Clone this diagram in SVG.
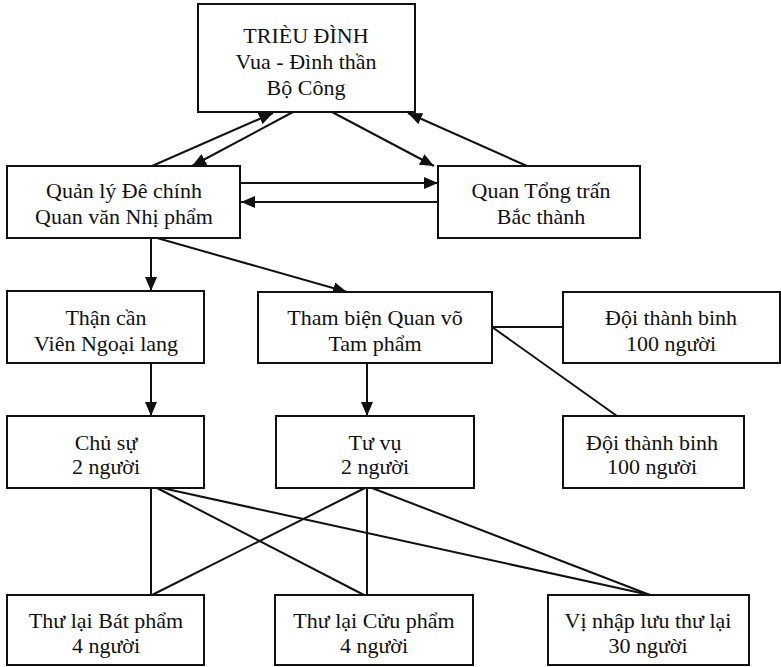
<svg xmlns="http://www.w3.org/2000/svg" width="781" height="667" viewBox="0 0 781 667">
<style>
.box{fill:#fff;stroke:#111;stroke-width:2}
.t{font-family:"Liberation Serif","Times New Roman",serif;font-size:22px;fill:#111;text-anchor:middle}
.c{stroke:#111;stroke-width:2;fill:none}
.a{marker-end:url(#ah)}
</style>
<defs>
<marker id="ah" markerUnits="userSpaceOnUse" markerWidth="14" markerHeight="12" refX="14" refY="6" orient="auto">
<path d="M0,0 L14,6 L0,12 Z" fill="#111"/>
</marker>
</defs>
<rect width="781" height="667" fill="#fff"/>
<g id="connectors">
<line class="c a" x1="152" y1="166" x2="273" y2="113"/>
<line class="c a" x1="293" y1="112" x2="192" y2="166"/>
<line class="c a" x1="332" y1="112" x2="434" y2="166"/>
<line class="c a" x1="527" y1="166" x2="408" y2="113"/>
<line class="c a" x1="241" y1="183" x2="438" y2="183"/>
<line class="c a" x1="438" y1="202" x2="241" y2="202"/>
<line class="c a" x1="151" y1="238" x2="151" y2="291"/>
<line class="c a" x1="157" y1="238" x2="347" y2="292"/>
<line class="c" x1="492" y1="327" x2="563" y2="327"/>
<line class="c" x1="492" y1="327" x2="617" y2="416"/>
<line class="c a" x1="151" y1="363" x2="151" y2="416"/>
<line class="c a" x1="367" y1="363" x2="367" y2="416"/>
<line class="c" x1="151" y1="488" x2="151" y2="595"/>
<line class="c" x1="157" y1="488" x2="364" y2="595"/>
<line class="c" x1="162" y1="488" x2="650" y2="595"/>
<line class="c" x1="365" y1="488" x2="152" y2="595"/>
<line class="c" x1="367" y1="488" x2="367" y2="595"/>
<line class="c" x1="372" y1="488" x2="650" y2="595"/>
</g>
<g id="trieu-dinh">
<rect class="box" x="198" y="4" width="217" height="108"/>
<text class="t" x="306" y="43">TRIÈU ĐÌNH</text>
<text class="t" x="306" y="69">Vua - Đình thần</text>
<text class="t" x="306" y="95">Bộ Công</text>
</g>
<g id="quan-ly">
<rect class="box" x="7" y="166" width="233" height="72"/>
<text class="t" x="124" y="198">Quản lý Đê chính</text>
<text class="t" x="124" y="224">Quan văn Nhị phẩm</text>
</g>
<g id="tong-tran">
<rect class="box" x="438" y="166" width="202" height="72"/>
<text class="t" x="541" y="198">Quan Tổng trấn</text>
<text class="t" x="541" y="224">Bắc thành</text>
</g>
<g id="than-can">
<rect class="box" x="7" y="291" width="197" height="72"/>
<text class="t" x="106" y="325">Thận cần</text>
<text class="t" x="106" y="351">Viên Ngoại lang</text>
</g>
<g id="tham-bien">
<rect class="box" x="258" y="292" width="234" height="71"/>
<text class="t" x="375" y="325">Tham biện Quan võ</text>
<text class="t" x="375" y="351">Tam phẩm</text>
</g>
<g id="doi-1">
<rect class="box" x="563" y="292" width="217" height="71"/>
<text class="t" x="671" y="325">Đội thành binh</text>
<text class="t" x="671" y="351">100 người</text>
</g>
<g id="chu-su">
<rect class="box" x="7" y="416" width="197" height="72"/>
<text class="t" x="106" y="450">Chủ sự</text>
<text class="t" x="106" y="474">2 người</text>
</g>
<g id="tu-vu">
<rect class="box" x="276" y="416" width="198" height="72"/>
<text class="t" x="375" y="450">Tư vụ</text>
<text class="t" x="375" y="474">2 người</text>
</g>
<g id="doi-2">
<rect class="box" x="563" y="416" width="181" height="72"/>
<text class="t" x="652" y="450">Đội thành binh</text>
<text class="t" x="652" y="474">100 người</text>
</g>
<g id="bat-pham">
<rect class="box" x="7" y="595" width="197" height="70"/>
<text class="t" x="106" y="628">Thư lại Bát phẩm</text>
<text class="t" x="106" y="653">4 người</text>
</g>
<g id="cuu-pham">
<rect class="box" x="275" y="595" width="198" height="70"/>
<text class="t" x="374" y="628">Thư lại Cửu phẩm</text>
<text class="t" x="374" y="653">4 người</text>
</g>
<g id="vi-nhap">
<rect class="box" x="548" y="595" width="201" height="70"/>
<text class="t" x="648" y="628">Vị nhập lưu thư lại</text>
<text class="t" x="648" y="653">30 người</text>
</g>
</svg>
